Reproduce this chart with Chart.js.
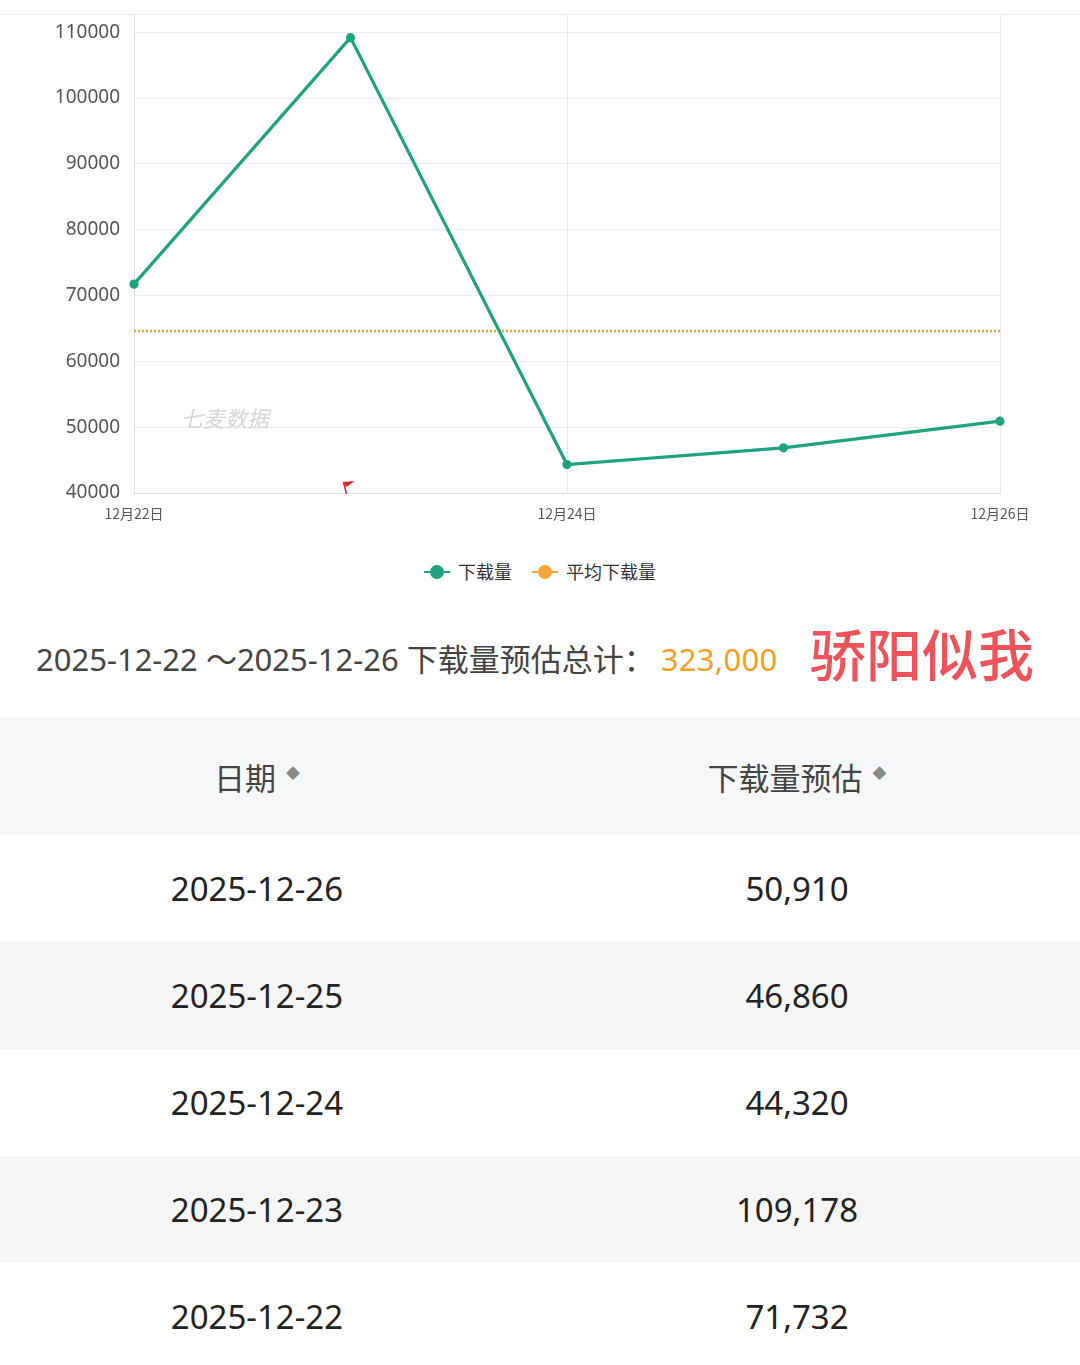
<!DOCTYPE html>
<html>
<head>
<meta charset="utf-8">
<script src="https://cdn.jsdelivr.net/npm/chart.js@4.4.1/dist/chart.umd.min.js"></script>
<style>
  body { margin: 0; width: 1080px; height: 1365px; overflow: hidden; background: #fff;
         font-family: "Noto Sans", "Noto Sans CJK SC", sans-serif; position: relative; }
  #topbar { position: absolute; left: 0; top: 0; width: 1080px; height: 14px; background: #fff;
            border-bottom: 1px solid #ececec; z-index: 3; }
  #wrap { position: absolute; left: 0; top: -59px; width: 1080px; height: 592px; }
  #mark { position: absolute; left: 181px; top: 401px; font-size: 22px; color: #d6d6d6;
          font-style: italic; font-family: "Noto Sans CJK SC", sans-serif; }
  #legend { position: absolute; top: 558px; left: 0; width: 1080px; text-align: center;
            font-size: 18px; color: #333; font-family: "Noto Sans CJK SC", sans-serif; }
  #legend span.item { display: inline-block; margin: 0 8px; }
  #legend i { display: inline-block; position: relative; width: 26px; height: 2px; vertical-align: middle;
              margin-right: 8px; top: -2px; }
  #legend i b { position: absolute; left: 6px; top: -6px; width: 14px; height: 14px; border-radius: 50%; }
  #summary { position: absolute; top: 620px; left: 36px; width: 1044px; height: 76px; }
  #summary .t { position: absolute; left: 0; top: 15px; font-size: 31px; color: #444; white-space: nowrap;
                font-family: "Noto Sans", "Noto Sans CJK SC", sans-serif; }
  #summary .v { color: #f0a024; margin-left: 6px; letter-spacing: 0.3px; }
  #summary .n { position: absolute; left: 774px; top: -9px; font-size: 56px; color: #f0525a;
                font-family: "Noto Sans CJK SC", sans-serif; font-weight: 500; white-space: nowrap; }
  table { position: absolute; top: 717px; left: 0; width: 1080px; border-collapse: collapse;
          font-family: "Noto Sans", "Noto Sans CJK SC", sans-serif; }
  th { height: 118px; background: #f6f7f9; font-weight: normal; font-size: 31px; color: #444;
       font-family: "Noto Sans CJK SC", sans-serif; }
  td { height: 107px; font-size: 33px; color: #222; text-align: center; }
  th, td { width: 540px; padding: 0 26px 0 0; box-sizing: border-box; }
  tr.g td { background: #f6f6f6; }
  .sort { font-size: 14px; color: #888; vertical-align: 12px; margin-left: 10px; }
</style>
</head>
<body>
<div id="topbar"></div>
<div id="wrap"><canvas id="grafica"></canvas></div>
<div id="mark">七麦数据</div>
<div id="legend">
  <span class="item"><i style="background:#1fa37e"><b style="background:#1fa37e"></b></i>下载量</span>
  <span class="item"><i style="background:#f5a53a"><b style="background:#f5a53a"></b></i>平均下载量</span>
</div>
<div id="summary">
  <div class="t">2025-12-22 ～2025-12-26 下载量预估总计：<span class="v" id="total"></span></div>
  <div class="n">骄阳似我</div>
</div>
<table id="tabla">
  <thead><tr><th>日期<span class="sort">◆</span></th><th>下载量预估<span class="sort">◆</span></th></tr></thead>
  <tbody></tbody>
</table>
<script>
const fechas = ['2025-12-22', '2025-12-23', '2025-12-24', '2025-12-25', '2025-12-26'];
const etiquetas = ['12月22日', '12月23日', '12月24日', '12月25日', '12月26日'];
const descargas = [71732, 109178, 44320, 46860, 50910];
const totalEstimado = 323000;
const promedio = totalEstimado / descargas.length;
const ejeY = { min: 40000, max: 120000, paso: 10000 };

document.getElementById('total').textContent = totalEstimado.toLocaleString('en-US');

// tabla (más reciente primero)
const tbody = document.querySelector('#tabla tbody');
fechas.slice().reverse().forEach((f, i) => {
  const tr = document.createElement('tr');
  if (i % 2 === 1) tr.className = 'g';
  const v = descargas[fechas.indexOf(f)];
  tr.innerHTML = '<td>' + f + '</td><td>' + v.toLocaleString('en-US') + '</td>';
  tbody.appendChild(tr);
});

// banderita roja en 12月23日
const bandera = {
  id: 'bandera',
  afterDatasetsDraw(chart) {
    const ctx = chart.ctx;
    const x = chart.scales.x.getPixelForValue(1) - 7;
    const y = chart.chartArea.bottom - 3;
    ctx.save();
    ctx.strokeStyle = '#d9262b';
    ctx.fillStyle = '#e0262b';
    ctx.lineWidth = 1.5;
    ctx.beginPath(); ctx.moveTo(x + 3, y + 4); ctx.lineTo(x, y - 8); ctx.stroke();
    ctx.beginPath(); ctx.moveTo(x, y - 8); ctx.lineTo(x + 11, y - 9); ctx.lineTo(x + 3, y - 3); ctx.closePath(); ctx.fill();
    ctx.restore();
  }
};

new Chart(document.getElementById('grafica').getContext('2d'), {
  type: 'line',
  data: {
    labels: etiquetas,
    datasets: [{
      label: '下载量',
      data: descargas,
      borderColor: '#1fa37e',
      backgroundColor: '#1fa37e',
      borderWidth: 3.2,
      pointRadius: 3,
      tension: 0
    }, {
      label: '平均下载量',
      data: descargas.map(() => promedio),
      borderColor: '#f0a82a',
      borderWidth: 2.5,
      borderDash: [2, 2],
      pointRadius: 0
    }]
  },
  options: {
    responsive: true,
    maintainAspectRatio: false,
    animation: false,
    layout: { autoPadding: false, padding: { top: 10, left: 0, right: 80, bottom: 0 } },
    plugins: { legend: { display: false }, tooltip: { enabled: false } },
    scales: {
      x: {
        afterFit: s => { s.height = 40; },
        border: { color: '#dcdcdc' },
        grid: {
          drawTicks: false,
          color: c => (c.index % 2 === 0 && c.index > 0) ? '#e9e9e9' : 'rgba(0,0,0,0)'
        },
        ticks: {
          autoSkip: false, maxRotation: 0, padding: 12,
          color: '#555', font: { size: 14, family: 'Noto Sans CJK SC' },
          callback: (v, i) => i % 2 === 0 ? etiquetas[i] : ''
        }
      },
      y: {
        min: ejeY.min, max: ejeY.max,
        afterFit: s => { s.width = 134; },
        border: { color: '#e0e0e0' },
        grid: { drawTicks: false, color: '#ececec' },
        ticks: {
          stepSize: ejeY.paso, padding: 14,
          color: '#555', font: { size: 19, family: 'Noto Sans' },
          callback: v => String(v)
        }
      }
    }
  },
  plugins: [bandera]
});
</script>
</body>
</html>
